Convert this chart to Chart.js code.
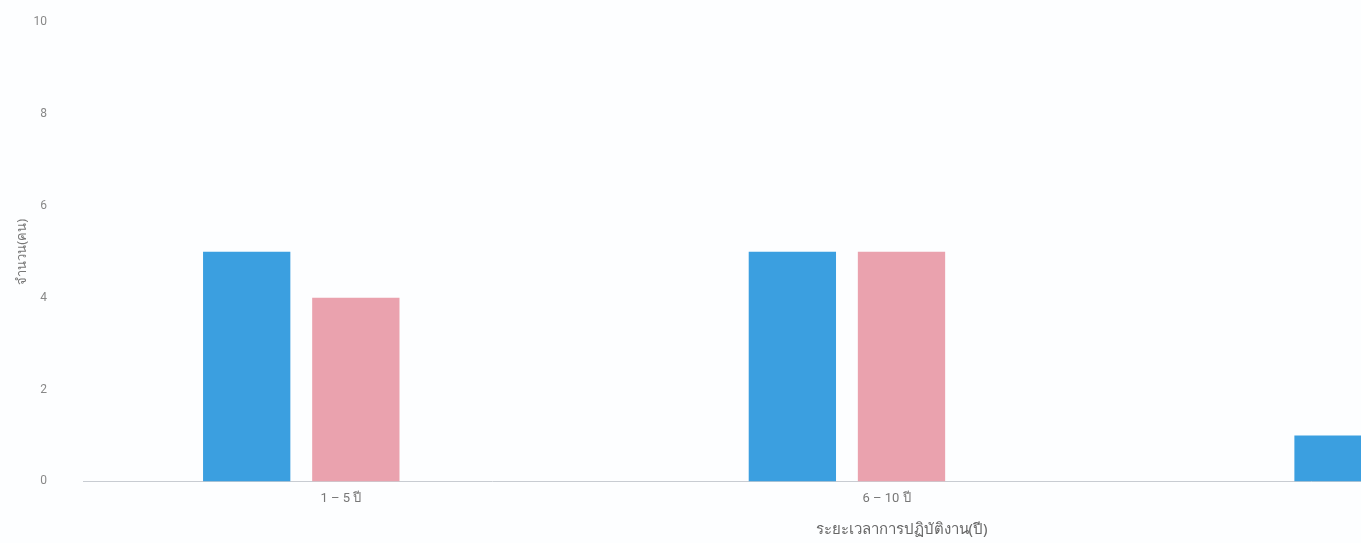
<!DOCTYPE html>
<html>
<head>
<meta charset="utf-8">
<script src="https://cdn.jsdelivr.net/npm/chart.js@4"></script>
<style>
    html, body { margin: 0; padding: 0; background: #fdfeff; overflow: hidden; }
    #wrap { position: relative; width: 1740px; height: 556px; margin-top: -13px; }
</style>
</head>
<body>
<div id="wrap"><canvas id="bar-chart"></canvas></div>
<script>
// data
const labels = ["1 – 5 ปี", "6 – 10 ปี", "11 ปีขึ้นไป"];
const seriesA = [5, 5, 1];
const seriesB = [4, 5, 0];
const seriesC = [0, 0, 0];
const yTicks = [0, 2, 4, 6, 8, 10];

new Chart(document.getElementById("bar-chart"), {
    type: 'bar',
    data: {
        labels: labels,
        datasets: [
            { label: "ชาย", backgroundColor: "#3b9fe0", data: seriesA },
            { label: "หญิง", backgroundColor: "#eaa2ae", data: seriesB },
            { label: "อื่นๆ", backgroundColor: "#c9cbcf", data: seriesC }
        ]
    },
    options: {
        responsive: true,
        maintainAspectRatio: false,
        animation: false,
        categoryPercentage: 0.6,
        barPercentage: 0.8,
        layout: { padding: { top: 0, left: 10, right: 20, bottom: 0 } },
        plugins: {
            legend: { display: false },
            tooltip: { enabled: false }
        },
        scales: {
            x: {
                grid: { display: false },
                border: { display: true, color: '#c8ccd2' },
                ticks: { color: '#777', font: { family: 'Roboto, "Noto Sans", sans-serif', size: 13 }, padding: 2, labelOffset: -15 },
                title: {
                    display: true,
                    text: 'ระยะเวลาการปฏิบัติงาน(ปี)',
                    color: '#666',
                    font: { family: '"Noto Sans", sans-serif', size: 15 },
                    padding: { top: 12, bottom: 4 }
                }
            },
            y: {
                min: yTicks[0],
                max: yTicks[yTicks.length - 1],
                grid: { display: false },
                border: { display: false },
                afterBuildTicks: function (scale) {
                    scale.ticks = yTicks.map(function (v) { return { value: v }; });
                },
                afterFit: function (scale) {
                    scale.width = 73;
                },
                ticks: { color: '#888', font: { family: 'Roboto, sans-serif', size: 12 }, padding: 28 },
                title: {
                    display: true,
                    text: 'จำนวน(คน)',
                    color: '#777',
                    font: { family: '"Noto Sans", sans-serif', size: 13 }
                }
            }
        }
    }
});
</script>
</body>
</html>
